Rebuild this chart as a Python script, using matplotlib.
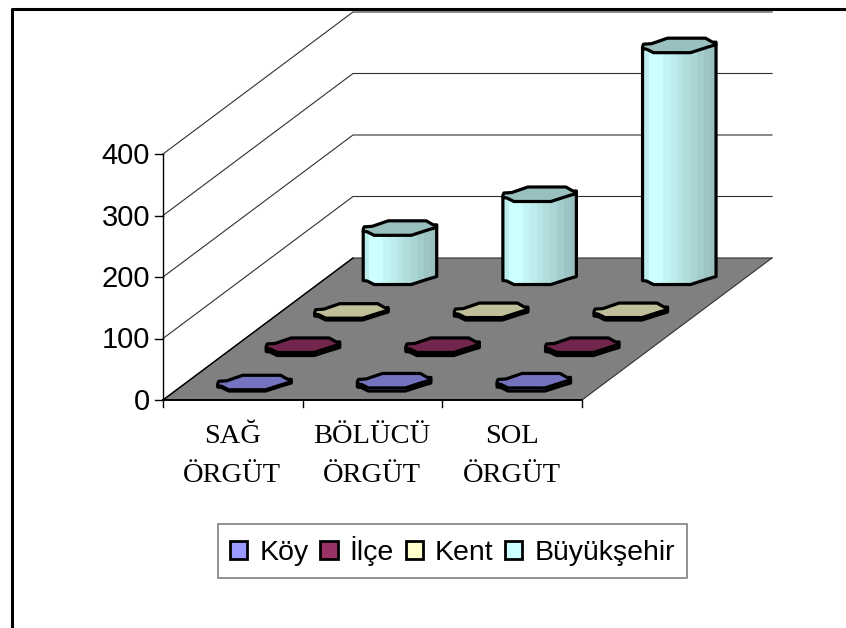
import matplotlib
matplotlib.use("Agg")
import matplotlib.pyplot as plt
import numpy as np
from matplotlib.patches import Patch, Polygon

# chart values
categories = ["SAĞ\nÖRGÜT", "BÖLÜCÜ\nÖRGÜT", "SOL\nÖRGÜT"]
series_names = ["Köy", "İlçe", "Kent", "Büyükşehir"]
koy = [2, 5, 5]
ilce = [5, 5, 5]
kent = [3, 4, 4]
buyuksehir = [80, 135, 377]
y_ticks = [0, 100, 200, 300, 400]
colors = ["#9999FF", "#993366", "#FFFFCC", "#CCFFFF"]

# oblique projection of the 3d box, in pixels
X0, Y0 = 163, 400
WIDTH = 419
DEPTH_X, DEPTH_Y = 190, -142
PX_PER_UNIT = 0.615
DEPTH_OFFSET = 0.45
BAR_NUDGE_X = 1.0  # cylinders drift a little right of the floor grid, per series

# cross section of a cylinder, pixel offsets from its centre
upper = [(-37, 1), (-36, -1.5), (-28, -2), (-12, -7.5), (26, -7.5), (33, -3.5), (36.5, -3.5)]
lower = [(36.5, -1), (28, 1.5), (11, 7), (-26, 7), (-33, 3.5), (-37, 3)]
# light bands going round the side
shades = [0.93, 1, 1, 0.96, 0.93, 0.9, 0.87, 0.84, 0.8, 0.77, 0.75]


def project(cat, depth, value=0):
    x = X0 + cat * WIDTH + depth * DEPTH_X
    y = Y0 + depth * DEPTH_Y - value * PX_PER_UNIT
    return x, y


def scaled(color, factor):
    return tuple(c * factor for c in matplotlib.colors.to_rgb(color))


fig = plt.figure(figsize=(8.46, 6.28), dpi=100)
ax = fig.add_axes([0, 0, 1, 1])
ax.axis("off")
plt.rcParams["font.family"] = ["Liberation Sans", "DejaVu Sans"]

# outer frame
ax.plot([12, 12, 846], [628, 8.5, 8.5], color="black", lw=2.2, zorder=1)

# floor and walls
floor = [project(0, 0), project(1, 0), project(1, 1), project(0, 1)]
ax.add_patch(Polygon(floor, closed=True, facecolor="#808080", edgecolor="none", zorder=2))
for v in y_ticks:
    p0 = project(0, 0, v)
    p1 = project(0, 1, v)
    p2 = project(1, 1, v)
    ax.plot([p0[0], p1[0], p2[0]], [p0[1], p1[1], p2[1]], color="#303030", lw=0.8, zorder=2)
    ax.plot([p0[0] - 8, p0[0]], [p0[1], p0[1]], color="black", lw=1, zorder=3)
    ax.text(p0[0] - 13, p0[1] + 2, str(v), ha="right", va="center", fontsize=21,
            family="Liberation Sans", color="black")

# axis lines
p_top = project(0, 0, y_ticks[-1])
ax.plot([X0, X0], [p_top[1], Y0], color="black", lw=1, zorder=3)
ax.plot([X0, X0 + WIDTH], [Y0, Y0], color="black", lw=1.4, zorder=6)
ax.plot([floor[0][0], floor[3][0]], [floor[0][1], floor[3][1]], color="black", lw=1, zorder=3)
ax.plot([floor[1][0], floor[2][0]], [floor[1][1], floor[2][1]], color="#303030", lw=0.8, zorder=3)
for i in range(len(categories) + 1):
    x, y = project(i / len(categories), 0)
    ax.plot([x, x], [y, y + 7], color="black", lw=1, zorder=3)
for i, name in enumerate(categories):
    x, y = project((i + 0.5) / len(categories), 0)
    ax.text(x - 0.5, y + 56, name, ha="center", va="center", fontsize=20.5, linespacing=1.76,
            family="Liberation Serif", color="black")

# cylinders, from the back to the front
all_series = [koy, ilce, kent, buyuksehir]
z = 10
for s in range(len(all_series) - 1, -1, -1):
    for c in range(len(categories)):
        cx, cy_base = project((c + 0.5) / len(categories), (s + DEPTH_OFFSET) / len(all_series))
        cx += BAR_NUDGE_X * (s + 0.5)
        _, cy_top = project((c + 0.5) / len(categories), (s + DEPTH_OFFSET) / len(all_series),
                            all_series[s][c])
        col = colors[s]
        body = [(cx + lower[0][0], cy_top + lower[0][1])]
        body += [(cx + a, cy_base + b) for a, b in lower]
        body += [(cx + lower[-1][0], cy_top + lower[-1][1])]
        body_patch = Polygon(body, closed=True, facecolor="none", edgecolor="black", lw=2.3,
                             joinstyle="round", zorder=z + 2)
        ax.add_patch(body_patch)
        band = np.array([[scaled(col, f) for f in shades]])
        im = ax.imshow(band, extent=(cx - 38, cx + 38, cy_base + 8, cy_top - 8), aspect="auto",
                       interpolation="nearest", zorder=z + 1)
        im.set_clip_path(Polygon(body, closed=True, transform=ax.transData))
        top = [(cx + a, cy_top + b) for a, b in upper + lower]
        ax.add_patch(Polygon(top, closed=True, facecolor=scaled(col, 0.75), edgecolor="black",
                             lw=2.3, joinstyle="round", zorder=z + 3))
        z += 4

# legend
handles = [Patch(facecolor=col, edgecolor="black", lw=2) for col in colors]
leg = ax.legend(handles, series_names, ncol=4, loc="center", bbox_to_anchor=(452.5, 551),
                bbox_transform=ax.transData, prop={"family": "Liberation Sans", "size": 20.5},
                frameon=True, fancybox=False, edgecolor="#808080", framealpha=1,
                handlelength=0.6, handleheight=0.6, handletextpad=0.42, columnspacing=0.42,
                borderpad=0.42, borderaxespad=0)
leg.set_zorder(z + 5)
leg.get_frame().set_linewidth(1.2)

ax.set_xlim(0, 846)
ax.set_ylim(628, 0)
fig.savefig("out.png", dpi=100)
